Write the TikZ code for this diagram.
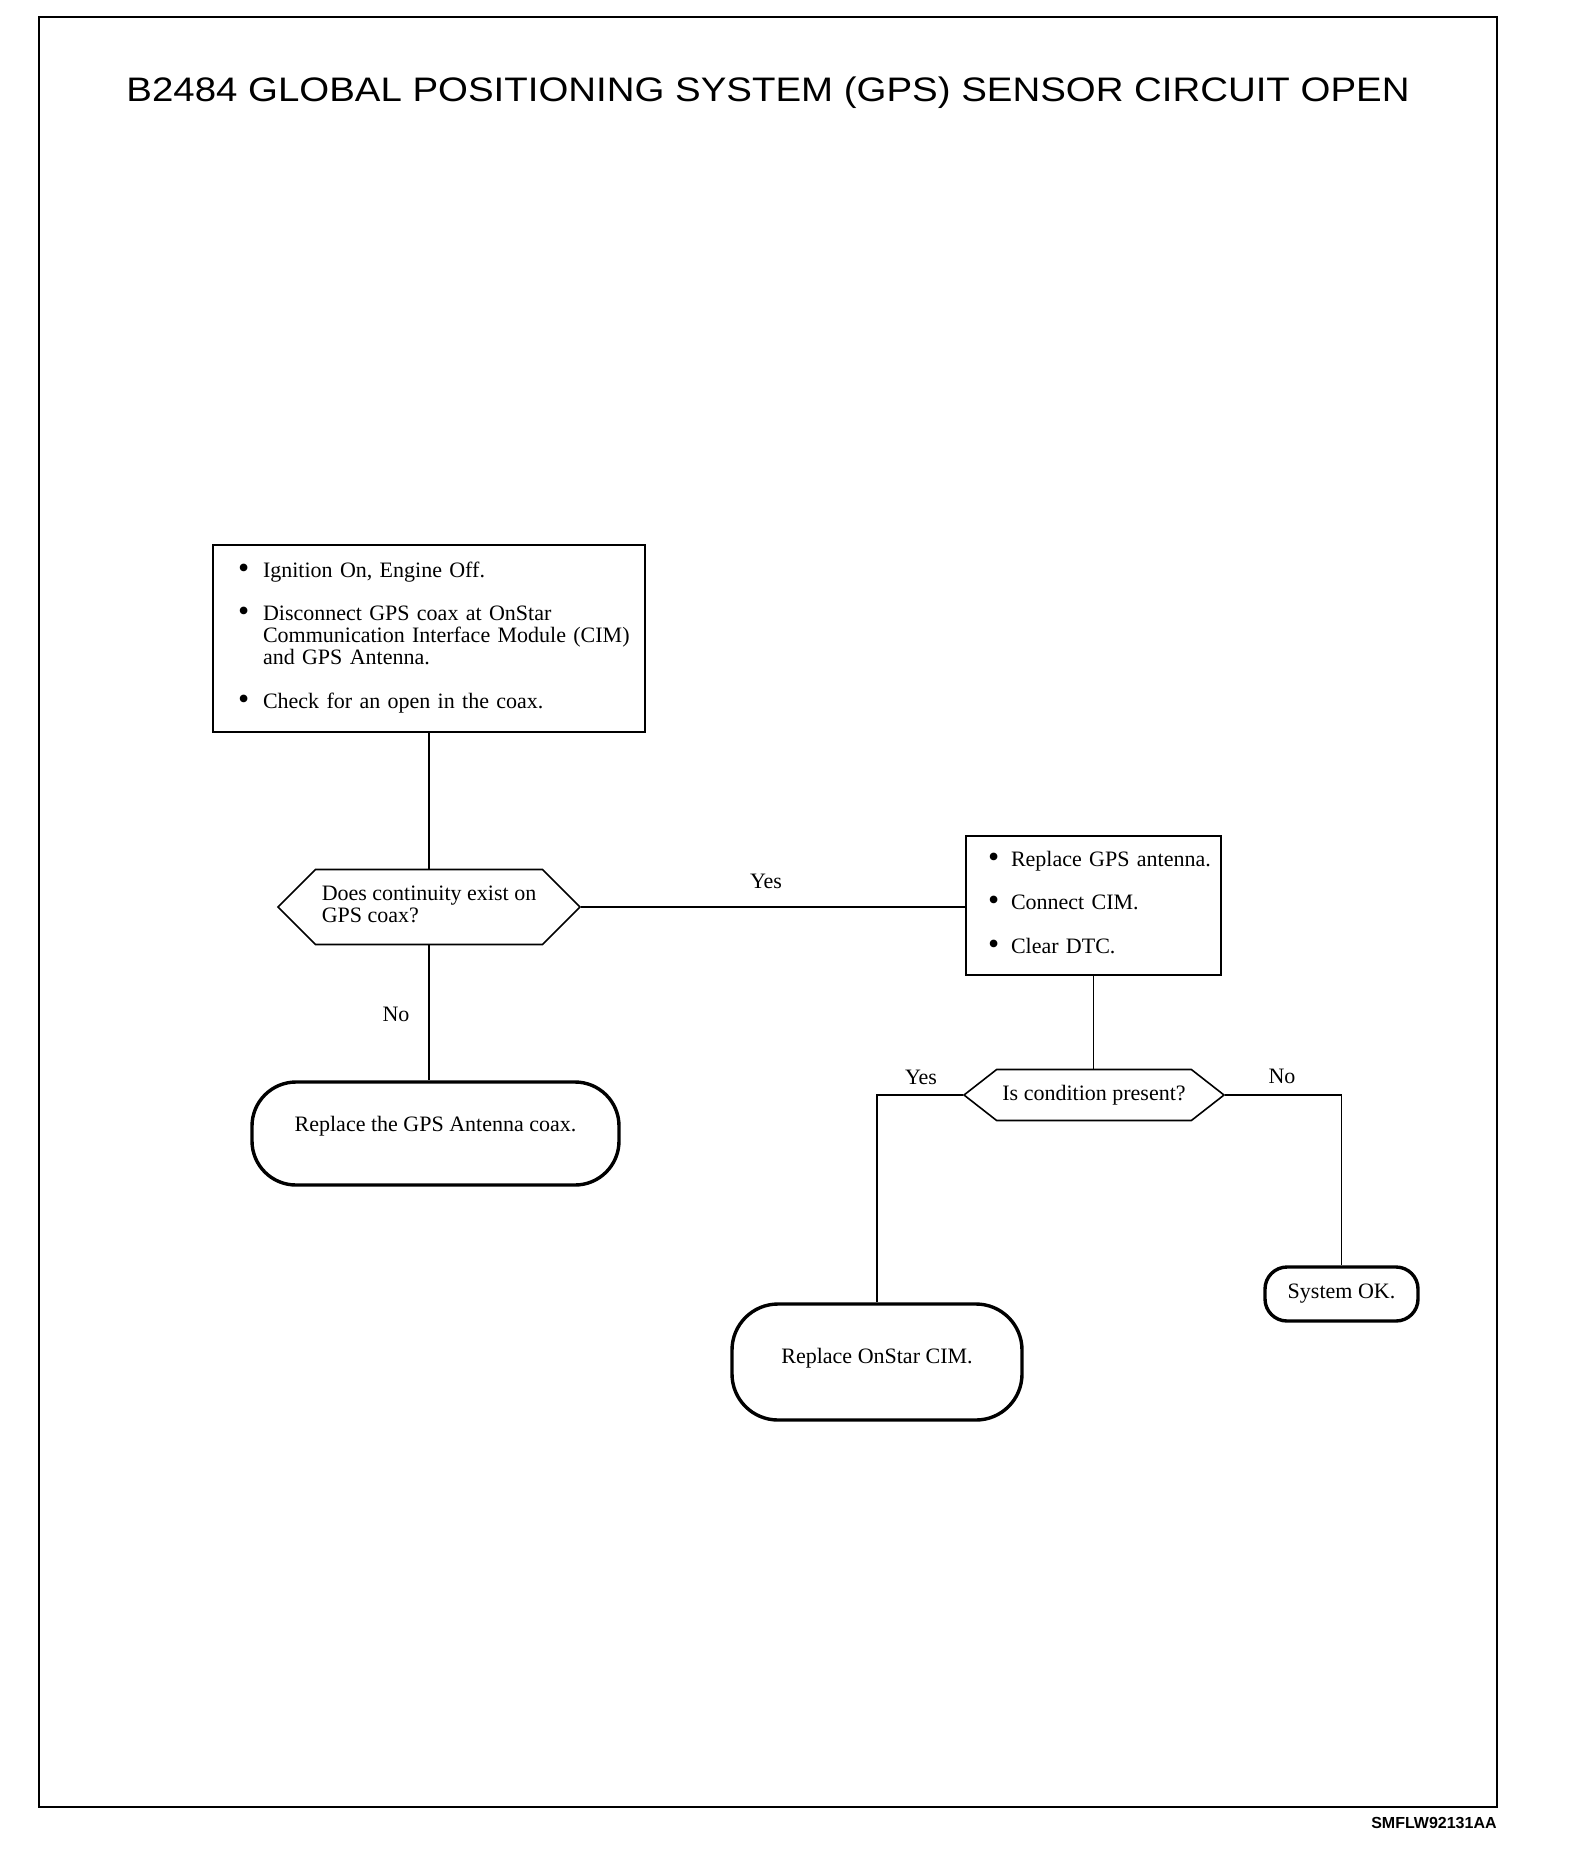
\documentclass[tikz,border=0pt]{standalone}
\usepackage{fontspec}
\usepackage{graphicx}
\setmainfont{Liberation Serif}
\newfontfamily\headfont{Liberation Sans}
\usetikzlibrary{shapes.symbols}
\usetikzlibrary{positioning}

\newcommand\dotcell[1][12.5pt]{\makebox[#1][l]{\raisebox{-0.5pt}{\scalebox{1.45}{\textbullet}}}}

\tikzset{
	every node/.style={font=\fontsize{11}{10.75}\selectfont},
	actbox/.style={draw, line width=1.2pt, inner sep=0pt, align=left},
	askbox/.style={draw, line width=0.8pt, signal, signal to=east and west, inner sep=0pt},
	endbox/.style={draw, line width=1.7pt, inner sep=0pt},
	wire/.style={line width=0.8pt},
	tag/.style={inner sep=0pt}
}

\begin{document}
\begin{tikzpicture}[x=0.5pt, y=-0.5pt]
	\useasboundingbox (0,0) rectangle (1568,1862);
	\draw[line width=1pt] (39,17) rectangle (1497,1807);
	
	\node[tag, anchor=base] (title) at (768,102)
	{\headfont\fontsize{17}{20}\selectfont\scalebox{1.13}[1]{B2484 GLOBAL POSITIONING SYSTEM (GPS) SENSOR CIRCUIT OPEN}};
	\node[tag, anchor=east] (figno) at (1497,1823)
	{\headfont\bfseries\fontsize{8}{9}\selectfont SMFLW92131AA};
	
	% first check
	\node[actbox, minimum width=216pt, minimum height=93.5pt, text width=191pt] (prep) at (429,638.5) {\noindent
		\begin{tabular}{@{}l@{}l@{}}
			\dotcell & Ignition On, Engine Off.\\[10.75pt]
			\dotcell & Disconnect GPS coax at OnStar\\
			& Communication Interface Module (CIM)\\
			& and GPS Antenna.\\[10.75pt]
			\dotcell & Check for an open in the coax.
	\end{tabular}};
	
	\node[askbox, signal pointer angle=90, minimum width=151pt, minimum height=37.5pt] (cont) at (429,907)
	{\begin{tabular}{@{}l@{}}Does continuity exist on\\GPS coax?\end{tabular}};
	
	\node[endbox, rounded corners=22pt, minimum width=183.5pt, minimum height=51.5pt, text depth=9.5pt] (coax) at (435.5,1133.5)
	{Replace the GPS Antenna coax.};
	
	% yes branch
	\node[actbox, minimum width=127.5pt, minimum height=69.5pt, text width=105.5pt] (swap) at (1093.5,905.5) {\noindent
		\begin{tabular}{@{}l@{}l@{}}
			\dotcell[11.5pt] & Replace GPS antenna.\\[10.75pt]
			\dotcell[11.5pt] & Connect CIM.\\[10.75pt]
			\dotcell[11.5pt] & Clear DTC.
	\end{tabular}};
	
	\node[askbox, signal pointer angle=76, minimum width=130pt, minimum height=25.5pt] (cond) at (1094,1095)
	{Is condition present?};
	
	\node[endbox, rounded corners=23pt, minimum width=145pt, minimum height=58pt, text depth=6.5pt] (cim) at (877,1362)
	{Replace OnStar CIM.};
	\node[endbox, rounded corners=11pt, minimum width=76.5pt, minimum height=27pt] (ok) at (1341.5,1294)
	{System OK.};
	
	% connectors
	\draw[wire] (prep.south) -- (cont.north);
	\draw[wire] (cont.south) -- (cont.south |- coax.north);
	\draw[wire] (cont.east) -- (cont.east -| swap.west);
	\draw[wire] (swap.south) -- (swap.south |- cond.north);
	\draw[wire] (cond.west) -| (cim.north);
	\draw[wire] (cond.east) -| (ok.north);
	
	\node[tag] (yes1) at (766,881) {Yes};
	\node[tag] (no1) at (396,1014) {No};
	\node[tag] (yes2) at (921,1077) {Yes};
	\node[tag] (no2) at (1282,1076) {No};
\end{tikzpicture}
\end{document}
